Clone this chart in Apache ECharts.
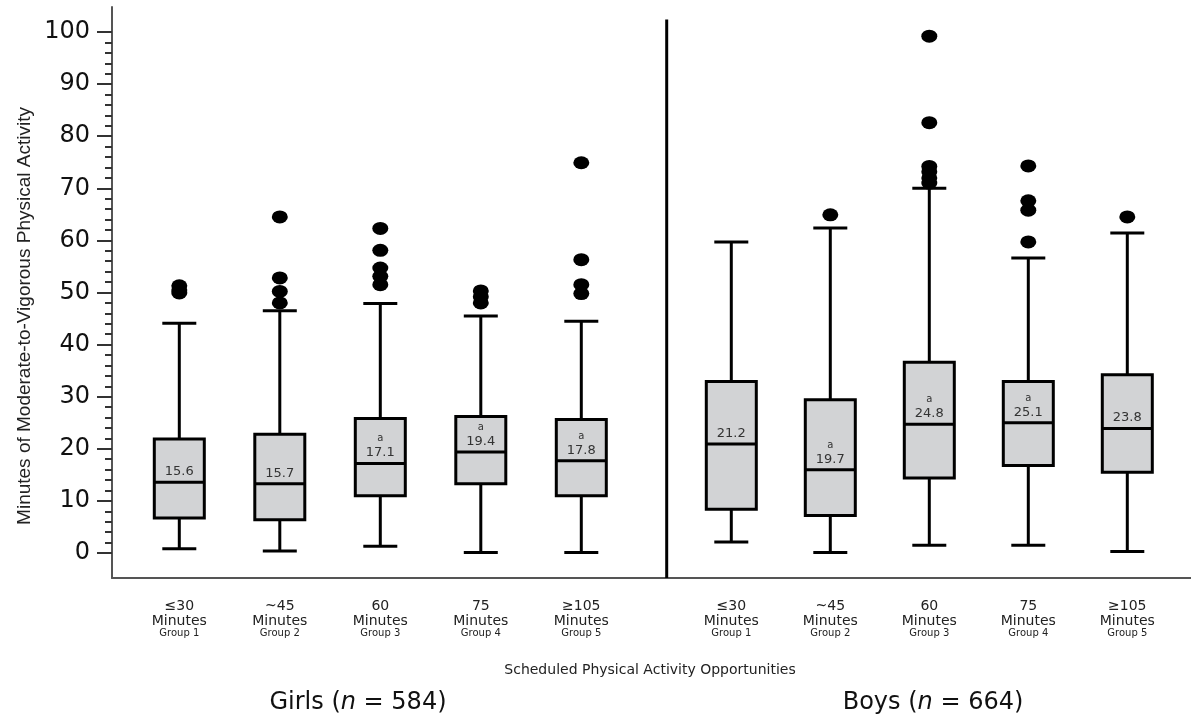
<!DOCTYPE html>
<html>
<head>
<meta charset="utf-8">
<script src="https://cdn.jsdelivr.net/npm/echarts@6/dist/echarts.min.js"></script>
<style>
html,body{margin:0;padding:0;background:#fff;}
#c{width:1191px;height:716px;}
</style>
</head>
<body>
<div id="c"></div>
<script>
// ---- data ----
const groupTop = ['≤30', '~45', '60', '75', '≥105'];
const groupMid = ['Minutes', 'Minutes', 'Minutes', 'Minutes', 'Minutes'];
const groupBottom = ['Group 1', 'Group 2', 'Group 3', 'Group 4', 'Group 5'];
// [lower whisker, Q1, median, Q3, upper whisker]
const girlsBox = [
  [0.8, 6.7, 13.6, 21.9, 44.1],
  [0.4, 6.4, 13.3, 22.8, 46.5],
  [1.3, 11.0, 17.2, 25.8, 47.9],
  [0.1, 13.3, 19.4, 26.2, 45.5],
  [0.1, 11.0, 17.7, 25.6, 44.5]
];
const boysBox = [
  [2.1, 8.4, 20.9, 32.9, 59.7],
  [0.1, 7.2, 16.0, 29.4, 62.4],
  [1.5, 14.4, 24.7, 36.6, 70.0],
  [1.5, 16.8, 25.0, 32.9, 56.6],
  [0.3, 15.5, 23.9, 34.2, 61.4]
];
const girlsMean = [15.6, 15.7, 17.1, 19.4, 17.8];
const boysMean = [21.2, 19.7, 24.8, 25.1, 23.8];
const girlsSig = [false, false, true, true, true];
const boysSig = [false, true, true, true, false];
const girlsOutliers = [
  [51.3, 50.5, 49.9],
  [64.5, 52.8, 50.2, 48.0],
  [62.3, 58.1, 54.7, 53.1, 51.5],
  [50.3, 49.2, 48.0],
  [74.9, 56.3, 51.5, 49.8]
];
const boysOutliers = [
  [],
  [64.9],
  [99.2, 82.6, 74.2, 73.2, 72.0, 71.0],
  [74.3, 67.6, 65.8, 59.7],
  [64.5]
];
const yTickValues = [0, 10, 20, 30, 40, 50, 60, 70, 80, 90, 100];
const girlsTitle = 'Girls';
const girlsN = 584;
const boysTitle = 'Boys';
const boysN = 664;
const xTitle = 'Scheduled Physical Activity Opportunities';
const yTitle = 'Minutes of Moderate-to-Vigorous Physical Activity';

// ---- layout helpers ----
const girlsPos = girlsBox.map((_, i) => i * 1.005);
const boysPos = boysBox.map((_, i) => 5.52 + i * 0.99);
const allPos = girlsPos.concat(boysPos);
const SEP = 4.874;

const boxData = [];
girlsBox.forEach((b, i) => boxData.push([girlsPos[i]].concat(b, [girlsMean[i], girlsSig[i] ? 1 : 0])));
boysBox.forEach((b, i) => boxData.push([boysPos[i]].concat(b, [boysMean[i], boysSig[i] ? 1 : 0])));

const outData = [];
girlsOutliers.forEach((arr, i) => arr.forEach(v => outData.push([girlsPos[i], v])));
boysOutliers.forEach((arr, i) => arr.forEach(v => outData.push([boysPos[i], v])));

const minorTicks = [];
for (let v = 2; v < 100; v += 2) { if (v % 10 !== 0) minorTicks.push(v); }

function labelFor(value) {
  for (let k = 0; k < allPos.length; k++) {
    if (Math.abs(allPos[k] - value) < 1e-6) {
      const i = k % 5;
      return '{a|' + groupTop[i] + '}\n{b|' + groupMid[i] + '}\n{c|' + groupBottom[i] + '}';
    }
  }
  return '';
}

const chart = echarts.init(document.getElementById('c'), null, {renderer: 'canvas'});

function renderBox(params, api) {
  const x = api.value(0);
  const lo = api.coord([x, api.value(1)]);
  const q1 = api.coord([x, api.value(2)]);
  const med = api.coord([x, api.value(3)]);
  const q3 = api.coord([x, api.value(4)]);
  const hi = api.coord([x, api.value(5)]);
  const mean = api.value(6);
  const sig = api.value(7);
  const cx = lo[0];
  const bw = 50, cw = 34;
  const lineStyle = {stroke: '#000', lineWidth: 3};
  const children = [
    {type: 'line', shape: {x1: cx, y1: hi[1], x2: cx, y2: q3[1]}, style: lineStyle},
    {type: 'line', shape: {x1: cx, y1: q1[1], x2: cx, y2: lo[1]}, style: lineStyle},
    {type: 'line', shape: {x1: cx - cw / 2, y1: hi[1], x2: cx + cw / 2, y2: hi[1]}, style: lineStyle},
    {type: 'line', shape: {x1: cx - cw / 2, y1: lo[1], x2: cx + cw / 2, y2: lo[1]}, style: lineStyle},
    {type: 'rect', shape: {x: cx - bw / 2, y: q3[1], width: bw, height: q1[1] - q3[1]},
      style: {fill: '#d2d3d5', stroke: '#000', lineWidth: 3}},
    {type: 'line', shape: {x1: cx - bw / 2, y1: med[1], x2: cx + bw / 2, y2: med[1]}, style: lineStyle},
    {type: 'text', x: cx, y: med[1] - 10.5,
      style: {text: mean.toFixed(1), align: 'center', verticalAlign: 'middle',
        font: '13px "DejaVu Sans"', fill: '#333'}}
  ];
  if (sig) {
    children.push({type: 'text', x: cx, y: med[1] - 24.5,
      style: {text: 'a', align: 'center', verticalAlign: 'middle',
        font: '10px "DejaVu Sans"', fill: '#333'}});
  }
  return {type: 'group', children: children};
}

const option = {
  backgroundColor: '#fff',
  animation: false,
  grid: {left: 112, right: 0, top: 7, bottom: 138, containLabel: false, outerBoundsMode: 'none'},
  xAxis: {
    type: 'value', min: -0.673, max: 10.117,
    axisLine: {show: true, onZero: false, lineStyle: {color: '#555', width: 2}},
    axisTick: {show: false},
    splitLine: {show: false},
    axisLabel: {
      customValues: allPos,
      margin: 20,
      formatter: labelFor,
      rich: {
        a: {fontFamily: 'DejaVu Sans', fontSize: 14, lineHeight: 16, color: '#222'},
        b: {fontFamily: 'DejaVu Sans', fontSize: 14, lineHeight: 15, color: '#222'},
        c: {fontFamily: 'DejaVu Sans', fontSize: 10, lineHeight: 8, color: '#222'}
      }
    }
  },
  yAxis: [{
    type: 'value', min: -4.8, max: 104.8,
    axisLine: {show: true, onZero: false, lineStyle: {color: '#555', width: 2}},
    axisTick: {show: true, customValues: yTickValues, length: 15, lineStyle: {color: '#333', width: 2}},
    splitLine: {show: false},
    axisLabel: {customValues: yTickValues, margin: 22, fontFamily: 'DejaVu Sans', fontSize: 24, color: '#111'}
  }, {
    type: 'value', min: -4.8, max: 104.8, position: 'left',
    axisLine: {show: false, onZero: false},
    axisTick: {show: true, customValues: minorTicks, length: 7, lineStyle: {color: '#333', width: 2}},
    splitLine: {show: false},
    axisLabel: {show: false}
  }],
  series: [{
    type: 'custom',
    renderItem: renderBox,
    data: boxData,
    encode: {x: 0, y: [1, 2, 3, 4, 5]},
    clip: false,
    z: 3
  }, {
    type: 'scatter',
    data: outData,
    symbol: 'circle',
    symbolSize: [16, 13],
    itemStyle: {color: '#000', opacity: 1},
    z: 4
  }, {
    type: 'line',
    data: [[SEP, -4.8], [SEP, 102.4]],
    symbol: 'none',
    lineStyle: {color: '#000', width: 3},
    z: 2
  }],
  graphic: [{
    type: 'text', x: 25, y: 316, rotation: Math.PI / 2,
    style: {text: yTitle, align: 'center', verticalAlign: 'middle',
      font: '19px "Liberation Sans", Arial, sans-serif', fill: '#222'}
  }, {
    type: 'text', x: 650, y: 670,
    style: {text: xTitle, align: 'center', verticalAlign: 'middle',
      font: '14px "DejaVu Sans"', fill: '#222'}
  }, {
    type: 'text', x: 358, y: 703,
    style: {text: '{a|' + girlsTitle + ' (}{n|n}{a| = ' + girlsN + ')}', align: 'center', verticalAlign: 'middle',
      rich: {a: {fontFamily: 'DejaVu Sans', fontSize: 24, fill: '#111'},
             n: {fontFamily: 'DejaVu Sans', fontSize: 24, fontStyle: 'italic', fill: '#111'}}}
  }, {
    type: 'text', x: 933, y: 703,
    style: {text: '{a|' + boysTitle + ' (}{n|n}{a| = ' + boysN + ')}', align: 'center', verticalAlign: 'middle',
      rich: {a: {fontFamily: 'DejaVu Sans', fontSize: 24, fill: '#111'},
             n: {fontFamily: 'DejaVu Sans', fontSize: 24, fontStyle: 'italic', fill: '#111'}}}
  }]
};
chart.setOption(option);
</script>
</body>
</html>
